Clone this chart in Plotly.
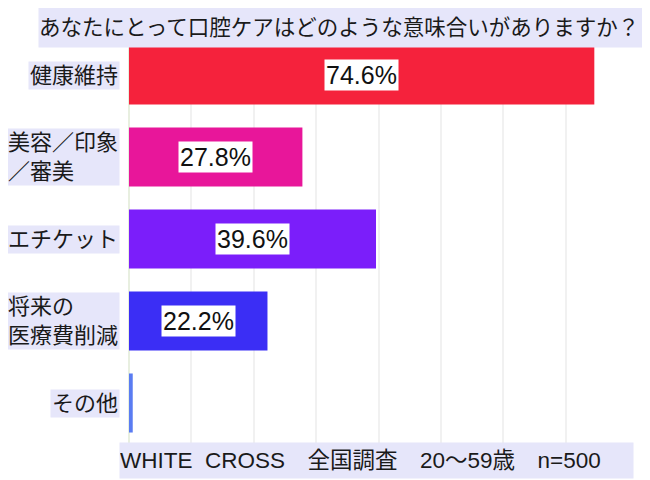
import plotly.graph_objects as go

categories = ["健康維持", "美容／印象<br>／審美", "エチケット", "将来の<br>医療費削減", "その他"]
values = [74.6, 27.8, 39.6, 22.2, 0.6]
bar_colors = ["#F5223C", "#E8169A", "#7B1EFA", "#3B2EF5", "#5A7CF2"]
title_text = "あなたにとって口腔ケアはどのような意味合いがありますか？"
footer_text = "WHITE  CROSS　全国調査　20〜59歳　n=500"

FONT = "Liberation Sans, Noto Sans CJK JP, sans-serif"
LAV = "#E6E6FA"

fig = go.Figure(go.Bar(
    y=categories, x=values, orientation="h",
    marker=dict(color=bar_colors, line=dict(width=0)),
    hoverinfo="skip",
))

annotations = []
# category labels
for c in categories:
    annotations.append(dict(
        xref="paper", x=0, xshift=-9, xanchor="right",
        yref="y", y=c, yanchor="middle",
        text=c, showarrow=False, align="left",
        font=dict(family=FONT, size=22, color="#1a1a1a"),
        bgcolor=LAV, borderpad=1,
    ))
# value labels
for c, v in zip(categories, values):
    if v >= 1:
        annotations.append(dict(
            xref="x", x=v / 2, yref="y", y=c,
            text=f"{v}%", showarrow=False,
            font=dict(family=FONT, size=25, color="#111111"),
            bgcolor="white", borderpad=1,
        ))
# title
annotations.append(dict(
    xref="paper", x=(38 - 129) / 499, xanchor="left",
    yref="paper", y=1 + (34 - 27.5) / 410, yanchor="middle",
    text=title_text, showarrow=False, align="left",
    width=607, height=39, borderpad=0,
    font=dict(family=FONT, size=21.5, color="#1a1a1a"),
    bgcolor=LAV,
))
# footer
annotations.append(dict(
    xref="paper", x=(119 - 129) / 499, xanchor="left",
    yref="paper", y=(444 - 460.5) / 410, yanchor="middle",
    text=footer_text, showarrow=False, align="left",
    width=513, height=35, borderpad=0,
    font=dict(family=FONT, size=22.5, color="#1a1a1a"),
    bgcolor=LAV,
))

fig.update_layout(
    width=650, height=480,
    margin=dict(l=121, r=30, t=26, b=44),
    paper_bgcolor="white", plot_bgcolor="white",
    bargap=0.28,
    showlegend=False,
    xaxis=dict(range=[0, 80], dtick=10, showgrid=True, gridcolor="#F1F1F1",
               gridwidth=1.5, zeroline=True, zerolinecolor="#E8EFE0",
               showticklabels=False, showline=False, fixedrange=True),
    yaxis=dict(autorange="reversed", showticklabels=False, showgrid=False,
               showline=False, zeroline=False, fixedrange=True),
    annotations=annotations,
)

fig.write_html("out.html")
